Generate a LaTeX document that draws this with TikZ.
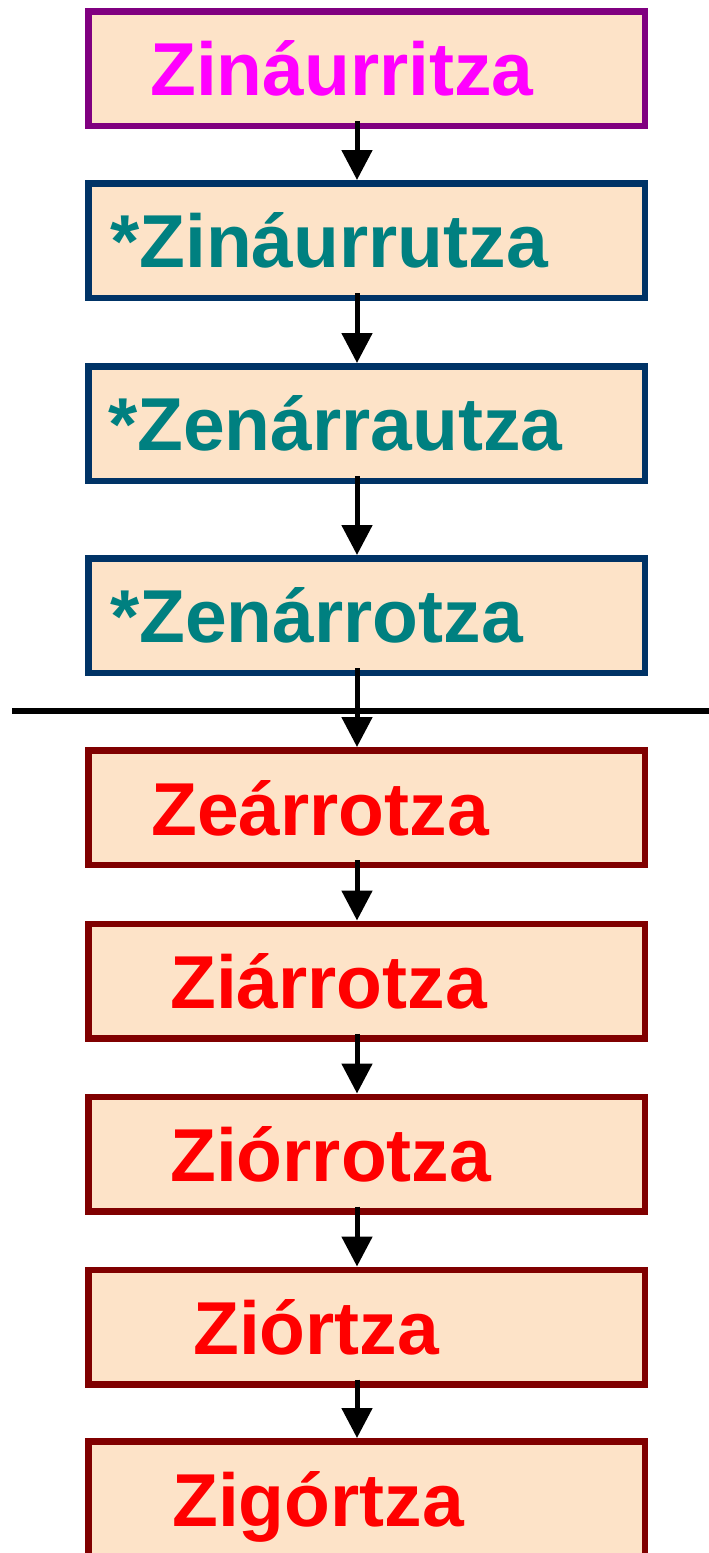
\documentclass[tikz,border=0pt]{standalone}
\usepackage{fontspec}
\setmainfont{Liberation Sans}
\usetikzlibrary{arrows.meta}

\definecolor{peach}{RGB}{253,227,200}
\definecolor{plum}{RGB}{128,0,128}
\definecolor{navy}{RGB}{0,51,102}
\definecolor{maroon}{RGB}{128,0,0}
\definecolor{pink}{RGB}{255,0,255}
\definecolor{teal}{RGB}{0,128,128}
\definecolor{brightred}{RGB}{255,0,0}

\begin{document}
\begin{tikzpicture}[x=1pt, y=-1pt,
    form/.style={draw, fill=peach, line width=6.5pt, minimum width=556.5pt, minimum height=114.5pt, inner sep=0pt},
    attested/.style={form, draw=plum},
    starred/.style={form, draw=navy},
    evolved/.style={form, draw=maroon},
    word/.style={anchor=base west, inner sep=0pt, font=\fontsize{75pt}{90pt}\bfseries\selectfont},
    change/.style={-{Triangle[width=30pt,length=30pt]}, line width=5pt, shorten <=-8pt}]
    \path[use as bounding box, clip] (0,0) rectangle (709,1553);

    \coordinate (spine) at (357,0);

    \node[attested] (z1) at (366.5,68.5) {};
    \node[word, text=pink] (w1) at (150,95.5) {Zináurritza};

    \node[starred] (z2) at (366.5,240.5) {};
    \node[word, text=teal] (w2) at (110,267.5) {*Zináurrutza};

    \node[starred] (z3) at (366.5,423.5) {};
    \node[word, text=teal] (w3) at (108,450.5) {*Zenárrautza};

    \node[starred] (z4) at (366.5,615.5) {};
    \node[word, text=teal] (w4) at (110,642) {*Zenárrotza};

    \node[evolved] (z5) at (366.5,807.5) {};
    \node[word, text=brightred] (w5) at (151,835) {Zeárrotza};

    \node[evolved] (z6) at (366.5,981) {};
    \node[word, text=brightred] (w6) at (170,1008) {Ziárrotza};

    \node[evolved] (z7) at (366.5,1154) {};
    \node[word, text=brightred] (w7) at (170,1181) {Ziórrotza};

    \node[evolved] (z8) at (366.5,1327) {};
    \node[word, text=brightred] (w8) at (193,1354.5) {Ziórtza};

    \node[evolved] (z9) at (366.5,1498.5) {};
    \node[word, text=brightred] (w9) at (172,1526) {Zigórtza};

    \coordinate (cutL) at (12,711);
    \coordinate (cutR) at (709,711);
    \draw[line width=5.5pt] (cutL) -- (cutR);

    \draw[change] (z1.south -| spine) -- (z2.north -| spine);
    \draw[change] (z2.south -| spine) -- (z3.north -| spine);
    \draw[change] (z3.south -| spine) -- (z4.north -| spine);
    \draw[change] (z4.south -| spine) -- (z5.north -| spine);
    \draw[change] (z5.south -| spine) -- (z6.north -| spine);
    \draw[change] (z6.south -| spine) -- (z7.north -| spine);
    \draw[change] (z7.south -| spine) -- (z8.north -| spine);
    \draw[change] (z8.south -| spine) -- (z9.north -| spine);
\end{tikzpicture}
\end{document}
